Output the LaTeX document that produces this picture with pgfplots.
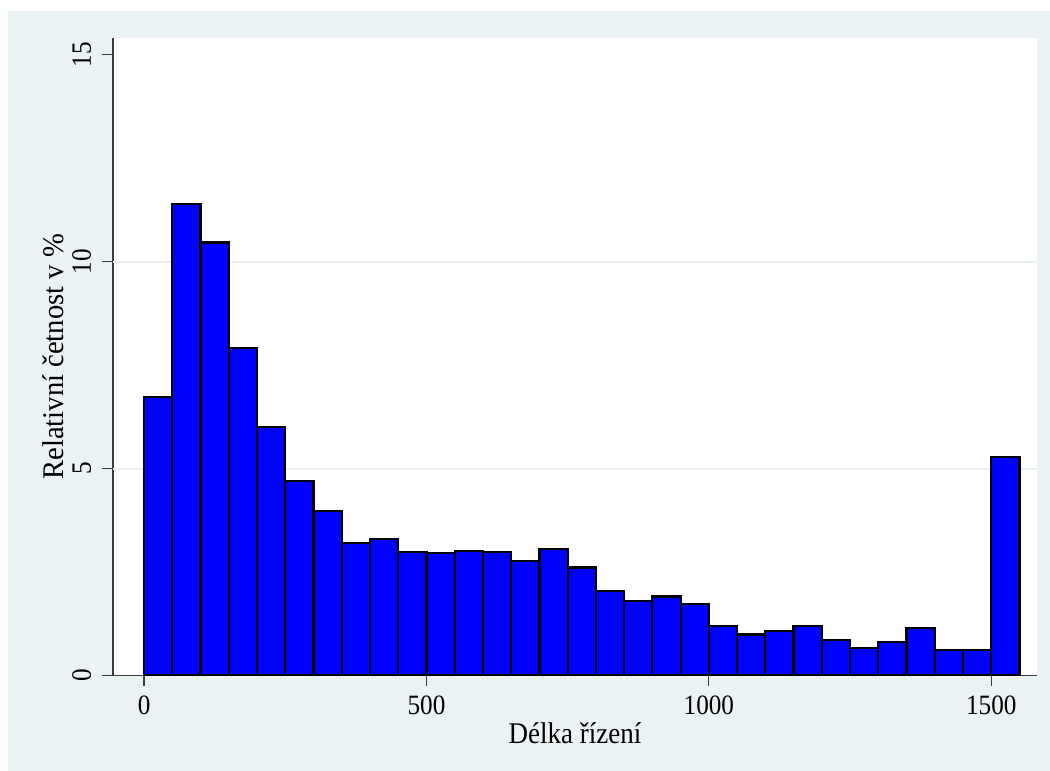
\documentclass[border=0pt]{standalone}
\usepackage{fontspec}
\setmainfont{Liberation Serif}[FakeStretch=0.9]
\usepackage{pgfplots}
\pgfplotsset{compat=1.18}
\definecolor{bgc}{RGB}{234,242,243}
\definecolor{gridc}{RGB}{232,240,242}
\definecolor{axc}{RGB}{60,60,60}
\begin{document}
\begin{tikzpicture}
\fill[white] (0,0) rectangle (525pt,385.5pt);
\fill[bgc] (4pt,0) rectangle (525pt,380pt);
\begin{axis}[
  anchor=south west, at={(56.5pt,47.75pt)},
  scale only axis, width=462pt, height=318.75pt,
  xmin=-55, xmax=1581, ymin=0, ymax=15.4,
  axis x line*=bottom, axis y line*=left,
  axis line style={axc, line width=0.6pt, -},
  axis background/.style={fill=white},
  xtick={0,500,1000,1500}, ytick={0,5,10,15},
  tick align=outside, major tick length=5.25pt,
  tick style={axc, line width=0.6pt},
  minor tick num=0,
  extra y ticks={5,10}, extra y tick labels={},
  extra y tick style={grid=major, major tick length=0pt},
  major grid style={gridc, line width=1pt},
  ticklabel style={font=\fontsize{14}{16}\selectfont},
  /pgf/number format/assume math mode=true,
  /pgf/number format/set thousands separator={},
  yticklabel style={rotate=90, anchor=south, inner sep=0pt},
  xticklabel style={anchor=north, inner sep=0pt},
  xticklabel shift=4.75pt, yticklabel shift=5.5pt,
  label style={font=\fontsize{15}{17}\selectfont},
  xlabel={Délka řízení}, ylabel={\scalebox{1.06}[1]{Relativní četnost v \%}},
  xlabel style={at={(axis description cs:0.5,0)}, anchor=base, yshift=-34.25pt},
  ylabel style={at={([xshift=-24.5pt]axis description cs:0,0.5)}, anchor=base},
]
\addplot[ybar interval, fill=blue, draw=black, line width=1.1pt] coordinates {
(0,6.72) (50,11.39) (100,10.46) (150,7.92) (200,6.00) (250,4.69) (300,3.97)
(350,3.20) (400,3.29) (450,2.98) (500,2.96) (550,3.01) (600,2.98) (650,2.76)
(700,3.05) (750,2.61) (800,2.05) (850,1.79) (900,1.91) (950,1.72) (1000,1.19)
(1050,0.99) (1100,1.08) (1150,1.19) (1200,0.86) (1250,0.66) (1300,0.80)
(1350,1.15) (1400,0.62) (1450,0.62) (1500,5.27) (1550,0)
};
\end{axis}
\end{tikzpicture}
\end{document}
